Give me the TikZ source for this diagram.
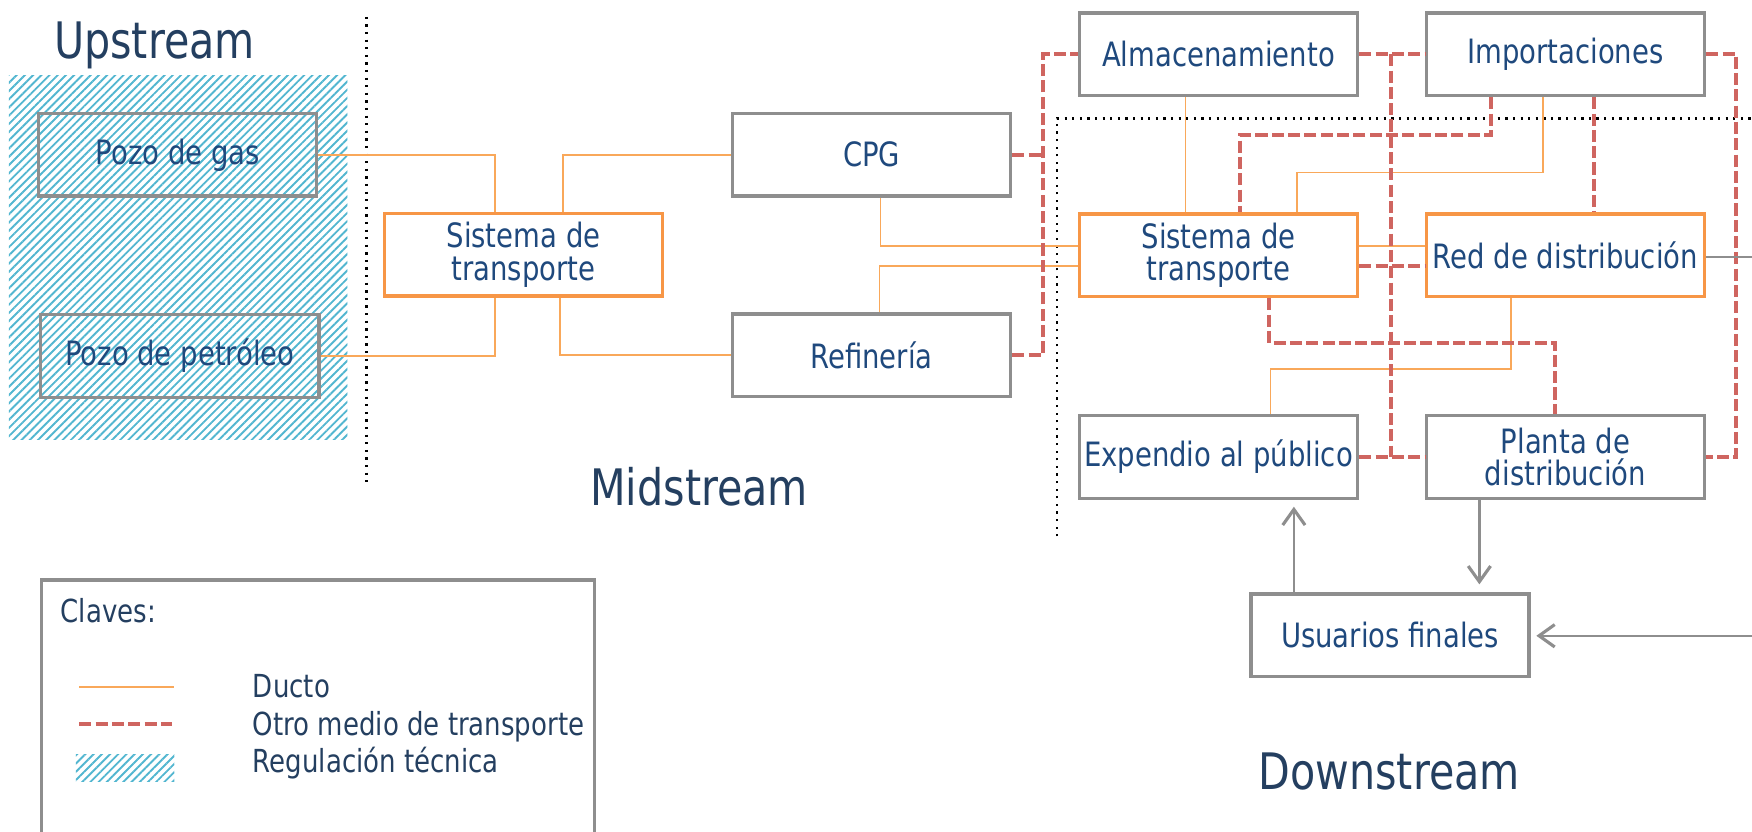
\documentclass[tikz,border=0pt]{standalone}
\usepackage{fontspec}
\setmainfont{DejaVu Sans}[FakeStretch=0.82]
\usetikzlibrary{calc,arrows.meta,patterns.meta}
\definecolor{boxgray}{HTML}{8E8E8E}
\definecolor{orangebox}{HTML}{F79646}
\definecolor{ductc}{HTML}{F9A85A}
\definecolor{otherc}{HTML}{CF6560}
\definecolor{hatchc}{HTML}{52B6D0}
\definecolor{nodetext}{HTML}{1F497D}
\definecolor{titletext}{HTML}{243F60}
\definecolor{arrowgray}{HTML}{8E8E8E}
\tikzset{
  box/.style={draw=boxgray, line width=1.5pt, minimum width=124.5pt, minimum height=37pt,
    inner sep=0pt, align=center, text=nodetext, font=\fontsize{15}{14.5}\selectfont},
  obox/.style={box, draw=orangebox},
  duct/.style={draw=ductc, line width=0.75pt},
  other/.style={draw=otherc, line width=1.8pt, dash pattern=on 5.4pt off 1.9pt},
  garrow/.style={draw=arrowgray, line width=1pt, -{Straight Barb[length=7pt,width=10pt,line width=1.4pt]}},
  sectitle/.style={text=titletext, font=\fontsize{22.5}{27}\selectfont, inner sep=0pt, anchor=base west},
  legtext/.style={text=titletext, font=\fontsize{14.2}{17}\selectfont, inner sep=0pt, anchor=base west},
  bound/.style={draw=black, line width=1pt, dash pattern=on 1pt off 2.4pt},
  hatch/.style={pattern={Lines[angle=45,distance=2.6pt,line width=0.85pt]}, pattern color=hatchc},
}
\begin{document}
\begin{tikzpicture}[x=0.5pt,y=-0.5pt]
\useasboundingbox (0,0) rectangle (1568,744);
\clip (0,0) rectangle (1568,744);

% regulated area
\fill[hatch] (8,68) rectangle (311,393);

% section boundaries
\draw[bound] (328,15) -- (328,432);
\draw[bound] (946,480) -- (946,106) -- (1575,106);

% section titles
\node[sectitle] (tup) at (48,52) {Upstream};
\node[sectitle] (tmid) at (528,452) {Midstream};
\node[sectitle] (tdown) at (1126,707) {Downstream};

% nodes
\node[box] (pgas) at (159,138.5) {Pozo de gas};
\node[box] (ppet) at (161,318.5) {Pozo de petróleo};
\node[obox] (st1) at (468.5,228) {Sistema de\\transporte};
\node[box] (cpg) at (780,138.5) {CPG};
\node[box] (ref) at (780,318) {Refinería};
\node[box] (alm) at (1090.5,48.5) {Almacenamiento};
\node[box] (imp) at (1401,48.5) {Importaciones};
\node[obox] (st2) at (1090.5,228.5) {Sistema de\\transporte};
\node[obox] (red) at (1401,228.5) {Red de distribución};
\node[box] (exp) at (1090.5,409) {Expendio al público};
\node[box] (pla) at (1401,409) {Planta de\\distribución};
\node[box] (usu) at (1244,568.5) {Usuarios finales};

% ducts
\draw[duct] (pgas.east) -| ($(st1.north)+(-25.5,0)$);
\draw[duct] ($(st1.north)+(35.5,0)$) |- (cpg.west);
\draw[duct] (ppet.east) -| ($(st1.south)+(-25.5,0)$);
\draw[duct] ($(st1.south)+(32.5,0)$) |- (ref.west);
\draw[duct] ($(cpg.south)+(8,0)$) |- ($(st2.west)+(0,-8.5)$);
\draw[duct] ($(ref.north)+(7,0)$) |- ($(st2.west)+(0,9.5)$);
\draw[duct] ($(alm.south)+(-29.5,0)$) -- ($(st2.north)+(-29.5,0)$);
\draw[duct] ($(imp.south)+(-20,0)$) -- ++(0,67.5) -| ($(st2.north)+(70.5,0)$);
\draw[duct] ($(st2.east)+(0,-8.5)$) -- ($(red.west)+(0,-8.5)$);
\draw[duct] ($(red.south)+(-49,0)$) -- ++(0,63) -| ($(exp.north)+(46.5,0)$);

% other transport means
\coordinate (j1) at ($(alm.west)+(-31,0)$);
\draw[other] (ref.east) -| (j1) -- (alm.west);
\draw[other] (cpg.east) -- (cpg.east -| j1);
\draw[other] (alm.east) -- (imp.west);
\coordinate (j2) at (1245,48.5);
\draw[other] (j2) -- (j2 |- exp.east);
\draw[other] (exp.east) -- (pla.west);
\draw[other] ($(imp.south)+(-67,0)$) -- ++(0,34) -| ($(st2.north)+(19.5,0)$);
\draw[other] ($(imp.south)+(26,0)$) -- ($(red.north)+(26,0)$);
\coordinate (j3) at (1554,200);
\draw[other] (imp.east) -| (j3) |- (pla.east);
\draw[other] ($(st2.east)+(0,9.5)$) -- ($(red.west)+(0,9.5)$);
\draw[other] ($(st2.south)+(45.5,0)$) -- ++(0,40) -| ($(pla.north)+(-9,0)$);

% end users
\coordinate (e1) at (1580,230);
\coordinate (e2) at (1580,569);
\coordinate (pa) at ($(pla.south)+(-77,0)$);
\draw[draw=arrowgray, line width=1pt] (red.east |- e1) -- (e1);
\draw[garrow, shorten >=2.5pt] (e2) -- (e2 -| usu.east);
\draw[garrow, shorten >=3pt] ($(usu.north)+(-86,0)$) -- ($(exp.south)+(67.5,0)$);
\draw[garrow, shorten >=3.5pt] (pa) -- (pa |- usu.north);

% legend
\draw[draw=boxgray, line width=1.5pt] (37,519) rectangle (532,780);
\node[legtext] (lclaves) at (54,557) {Claves:};
\draw[duct] (71,615) -- (156,615);
\draw[other] (71,648) -- (154,648);
\fill[hatch] (68,675) rectangle (156,699);
\node[legtext] (lducto) at (226,624) {Ducto};
\node[legtext] (lotro) at (226,658) {Otro medio de transporte};
\node[legtext] (lreg) at (226,691) {Regulación técnica};
\end{tikzpicture}
\end{document}
